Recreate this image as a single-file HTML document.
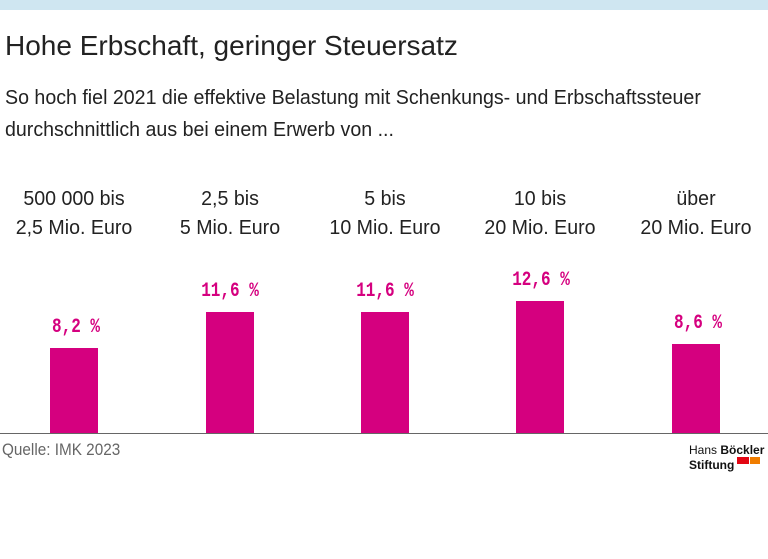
<!DOCTYPE html>
<html><head><style>
body{margin:0;width:768px;height:559px;background:#fff;position:relative;overflow:hidden;font-family:"Liberation Sans",sans-serif;color:#222}
.a{position:absolute}
.bar{position:absolute;background:#d5007f;width:48px}
.v{position:absolute;color:#d5007f;font-weight:bold;font-size:20px;width:120px;text-align:center;font-family:"Liberation Mono",monospace;transform:scaleX(0.8)}
.c{position:absolute;width:150px;text-align:center;font-size:20px;line-height:29px;top:185px;transform:scaleX(0.98)}
</style></head><body>
<div class="a" style="left:0;top:0;width:768px;height:10px;background:#cfe6f1"></div>
<div class="a" style="left:5px;top:30px;font-size:28px;white-space:nowrap">Hohe Erbschaft, geringer Steuersatz</div>
<div class="a" style="left:5px;top:82px;font-size:20px;line-height:32px;transform:scaleX(0.98);transform-origin:left;white-space:nowrap">So hoch fiel 2021 die effektive Belastung mit Schenkungs- und Erbschaftssteuer<br>durchschnittlich aus bei einem Erwerb von ...</div>
<div class="c" style="left:-1px">500 000 bis<br>2,5 Mio. Euro</div>
<div class="c" style="left:155px">2,5 bis<br>5 Mio. Euro</div>
<div class="c" style="left:310px">5 bis<br>10 Mio. Euro</div>
<div class="c" style="left:465px">10 bis<br>20 Mio. Euro</div>
<div class="c" style="left:621px">über<br>20 Mio. Euro</div>
<div class="bar" style="left:50px;top:348px;height:85px"></div>
<div class="bar" style="left:206px;top:312px;height:121px"></div>
<div class="bar" style="left:361px;top:312px;height:121px"></div>
<div class="bar" style="left:516px;top:301px;height:132px"></div>
<div class="bar" style="left:672px;top:344px;height:89px"></div>
<div class="v" style="left:16px;top:316px">8,2 %</div>
<div class="v" style="left:170px;top:280px">11,6 %</div>
<div class="v" style="left:325px;top:280px">11,6 %</div>
<div class="v" style="left:481px;top:269px">12,6 %</div>
<div class="v" style="left:638px;top:312px">8,6 %</div>
<div class="a" style="left:0;top:433px;width:768px;height:1px;background:#666"></div>
<div class="a" style="left:2px;top:440px;font-size:17px;color:#666;transform:scaleX(0.9);transform-origin:left">Quelle: IMK 2023</div>
<div class="a" style="left:689px;top:443px;font-size:12px;line-height:15px;color:#111">Hans <b>Böckler</b><br><b>Stiftung</b></div>
<div class="a" style="left:737px;top:457px;width:12px;height:7px;background:#e30613"></div>
<div class="a" style="left:750px;top:457px;width:10px;height:7px;background:#f07d00"></div>
</body></html>
